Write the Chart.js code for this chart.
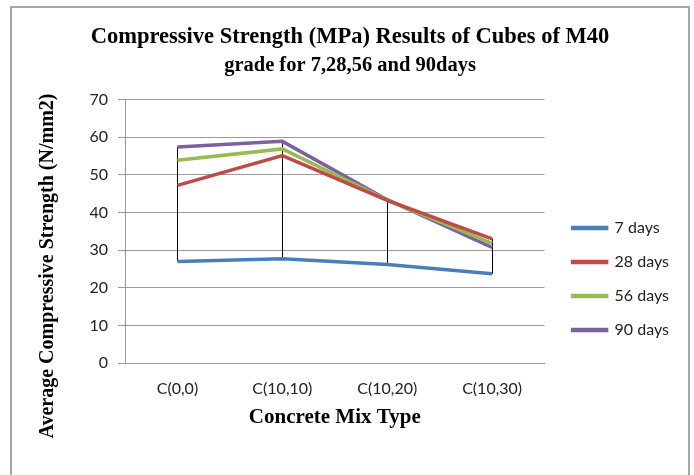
<!DOCTYPE html>
<html>
<head>
<meta charset="utf-8">
<script src="https://cdn.jsdelivr.net/npm/chart.js@4.4.1/dist/chart.umd.min.js"></script>
<style>
  html, body { margin: 0; padding: 0; background: #fff; }
  #wrap { position: relative; width: 694px; height: 475px; overflow: hidden; }
  #frame { position: absolute; left: 10px; top: 6px; width: 676px; height: 520px; border: 2px solid #a6a6a6; }
  #strengthChart { position: absolute; left: 0; top: 0; }
</style>
</head>
<body>
<div id="wrap">
  <div id="frame"></div>
  <canvas id="strengthChart" width="694" height="475"></canvas>
</div>
<script>
const mixTypes = ['C(0,0)', 'C(10,10)', 'C(10,20)', 'C(10,30)'];
const days7 = [27.0, 27.7, 26.2, 23.7];
const days28 = [47.2, 55.1, 43.2, 33.0];
const days56 = [53.9, 56.9, 43.3, 31.8];
const days90 = [57.4, 58.9, 43.4, 30.7];
const yTicks = [0, 10, 20, 30, 40, 50, 60, 70];

const titleLine1 = 'Compressive Strength (MPa) Results of Cubes of M40';
const titleLine2 = 'grade for 7,28,56 and 90days';
const xTitle = 'Concrete Mix Type';
const yTitle = 'Average Compressive Strength (N/mm2)';

const serif = "'Liberation Serif', 'Times New Roman', serif";
const sans = "Lato, 'Open Sans', sans-serif";
const gridGray = '#9a9a9a';

function series(label, data, color) {
  return {
    label,
    data,
    borderColor: color,
    backgroundColor: color,
    borderWidth: 3.5,
    pointRadius: 0,
    tension: 0,
    fill: false
  };
}

// black high-low lines between the lowest and highest series at each mix
const highLowLines = {
  id: 'highLowLines',
  beforeDatasetsDraw(chart) {
    const { ctx, scales: { x, y } } = chart;
    const sets = chart.data.datasets;
    ctx.save();
    ctx.strokeStyle = '#000';
    ctx.lineWidth = 1;
    mixTypes.forEach((_, i) => {
      const vals = sets.map(s => s.data[i]);
      const px = Math.round(x.getPixelForValue(i)) + 0.5;
      ctx.beginPath();
      ctx.moveTo(px, y.getPixelForValue(Math.max(...vals)));
      ctx.lineTo(px, y.getPixelForValue(Math.min(...vals)));
      ctx.stroke();
    });
    ctx.restore();
  }
};

// y axis title sits lower than the plot centre in the original
const yAxisTitle = {
  id: 'yAxisTitle',
  afterDraw(chart) {
    const { ctx } = chart;
    ctx.save();
    ctx.translate(48, 266);
    ctx.rotate(-Math.PI / 2);
    ctx.font = 'bold 20px ' + serif;
    ctx.fillStyle = '#000';
    ctx.textAlign = 'center';
    ctx.textBaseline = 'middle';
    ctx.fillText(yTitle, 0, 0);
    ctx.restore();
  }
};

new Chart(document.getElementById('strengthChart'), {
  type: 'line',
  data: {
    labels: mixTypes,
    datasets: [
      series('7 days', days7, '#4a7ebb'),
      series('28 days', days28, '#be4b48'),
      series('56 days', days56, '#98b954'),
      series('90 days', days90, '#7d60a0')
    ]
  },
  options: {
    responsive: false,
    animation: false,
    layout: { padding: { left: 21, right: 15, top: 0, bottom: 15 } },
    scales: {
      x: {
        offset: true,
        grid: { display: false },
        border: { display: true, color: gridGray, width: 1 },
        ticks: { color: '#222', padding: 8, font: { family: sans, size: 16 } },
        title: {
          display: true,
          text: xTitle,
          color: '#000',
          font: { family: serif, size: 21, weight: 'bold' },
          padding: { top: 0, bottom: 30 }
        },
        afterFit(s) { s.height = 97; }
      },
      y: {
        min: 0,
        max: 70,
        afterBuildTicks(s) { s.ticks = yTicks.map(v => ({ value: v })); },
        grid: { color: gridGray, tickLength: 7 },
        border: { display: true, color: gridGray },
        ticks: { color: '#222', padding: 10, font: { family: sans, size: 16 } },
        afterFit(s) { s.width = 104; }
      },
      gap: {
        type: 'linear',
        position: 'right',
        grid: { display: false },
        border: { display: false },
        ticks: { display: false },
        afterFit(s) { s.width = 10; }
      }
    },
    plugins: {
      title: {
        display: true,
        text: titleLine1,
        color: '#000',
        font: { family: serif, size: 22.5, weight: 'bold', lineHeight: 1.2 },
        padding: { top: 24, bottom: 0 }
      },
      subtitle: {
        display: true,
        text: titleLine2,
        color: '#000',
        font: { family: serif, size: 20.5, weight: 'bold', lineHeight: 1.2 },
        padding: { top: 2, bottom: 22 }
      },
      legend: {
        position: 'right',
        align: 'start',
        maxWidth: 200,
        title: { display: true, text: '', font: { size: 10 }, padding: { top: 190, bottom: 0 } },
        labels: {
          boxWidth: 34,
          boxHeight: 1,
          padding: 18,
          color: '#222',
          font: { family: sans, size: 16 }
        }
      },
      tooltip: { enabled: false }
    }
  },
  plugins: [highLowLines, yAxisTitle]
});
</script>
</body>
</html>
